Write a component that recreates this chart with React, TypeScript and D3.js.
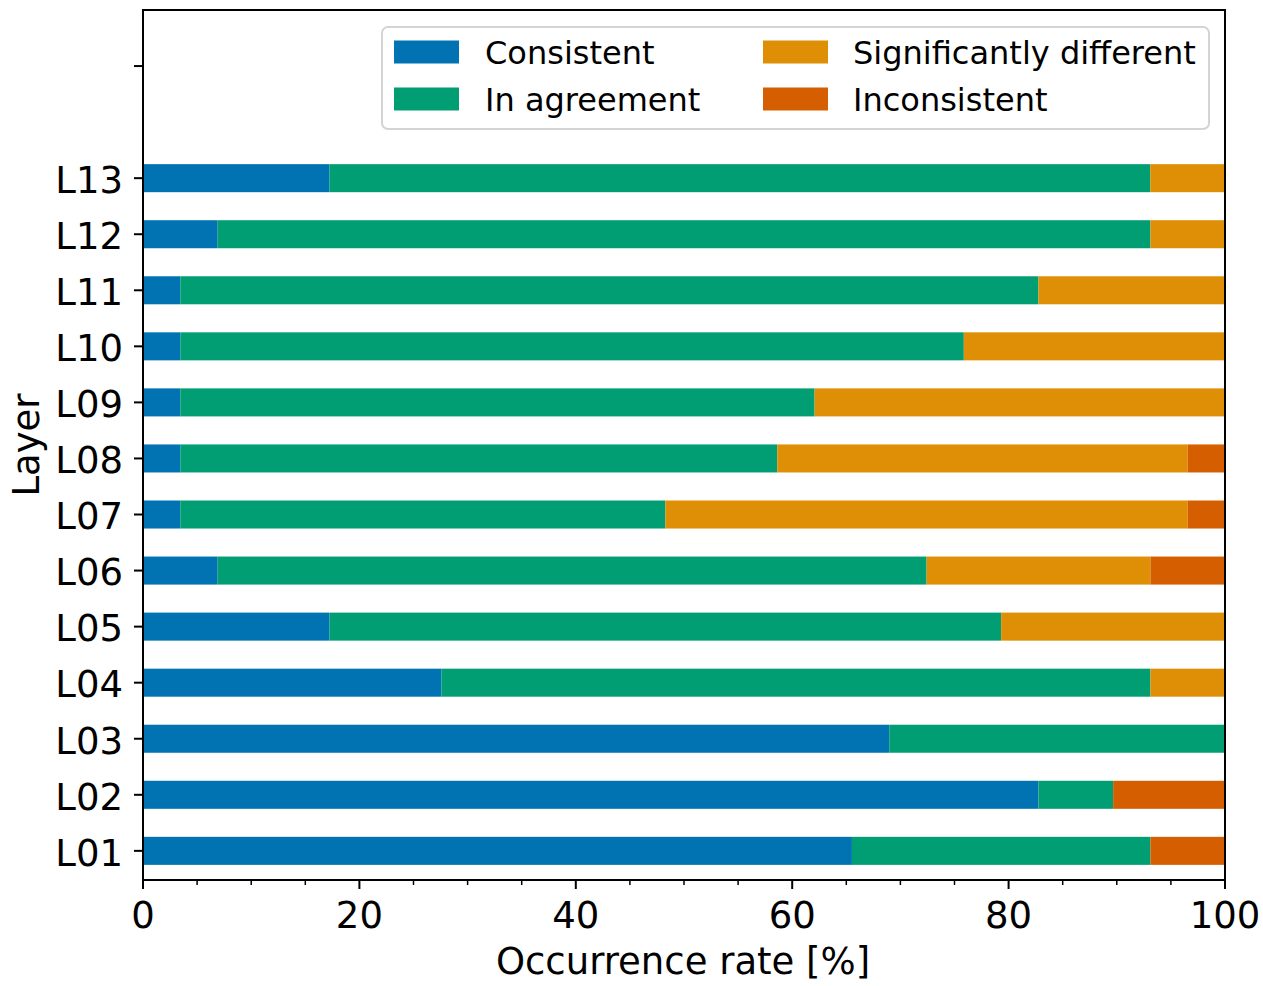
import React from "react";
import * as d3 from "d3";

const layers = ["L01","L02","L03","L04","L05","L06","L07","L08","L09","L10","L11","L12","L13"];
const seriesNames = ["Consistent", "In agreement", "Significantly different", "Inconsistent"];
const consistent = [65.52, 82.76, 68.97, 27.59, 17.24, 6.90, 3.45, 3.45, 3.45, 3.45, 3.45, 6.90, 17.24];
const inAgreement = [27.59, 6.90, 31.03, 65.52, 62.07, 65.52, 44.83, 55.17, 58.62, 72.41, 79.31, 86.21, 75.86];
const significantlyDifferent = [0, 0, 0, 6.90, 20.69, 20.69, 48.28, 37.93, 37.93, 24.14, 17.24, 6.90, 6.90];
const inconsistent = [6.90, 10.34, 0, 0, 0, 6.90, 3.45, 3.45, 0, 0, 0, 0, 0];
const xTicks = [0, 20, 40, 60, 80, 100];
const colors = ["#0173b2", "#029e73", "#de8f05", "#d55e00"];

const W = 1263, H = 986;
const ml = 143, mr = 1225, mt = 10, mb = 880;
const FONT = "DejaVu Sans, sans-serif";

export default function App() {
  const x = d3.scaleLinear().domain([0, 100]).range([ml, mr]);
  const y = d3.scaleLinear().domain([-0.52, 15]).range([mb, mt]);
  const rows = layers.map((l, i) => ({
    layer: l,
    [seriesNames[0]]: consistent[i],
    [seriesNames[1]]: inAgreement[i],
    [seriesNames[2]]: significantlyDifferent[i],
    [seriesNames[3]]: inconsistent[i],
  }));
  const stacked = d3.stack<any>().keys(seriesNames)(rows);
  const bh = Math.abs(y(0.25) - y(-0.25));
  const minorTicks = d3.range(0, 101, 5).filter((v) => v % 20 !== 0);
  const yTickPositions = [...layers.map((_, i) => i), 14];

  const legendItems = [
    { name: seriesNames[0], c: colors[0], hx: 394, tx: 485, cy: 52 },
    { name: seriesNames[1], c: colors[1], hx: 394, tx: 485, cy: 99 },
    { name: seriesNames[2], c: colors[2], hx: 763, tx: 853, cy: 52 },
    { name: seriesNames[3], c: colors[3], hx: 763, tx: 853, cy: 99 },
  ];

  return (
    <svg width={W} height={H} style={{ position: "absolute", left: 0, top: 0, background: "#fff" }} fontFamily={FONT}>
      <rect x={0} y={0} width={W} height={H} fill="#fff" />
      {stacked.map((s, si) => (
        <g key={s.key} fill={colors[si]}>
          {s.map((d, i) => (
            d[1] - d[0] > 0 ? (
              <rect key={i} x={x(d[0])} y={y(i) - bh / 2} width={x(d[1]) - x(d[0])} height={bh} />
            ) : null
          ))}
        </g>
      ))}
      <rect x={ml} y={mt} width={mr - ml} height={mb - mt} fill="none" stroke="#000" strokeWidth={2} />
      {xTicks.map((t) => (
        <g key={t}>
          <line x1={x(t)} x2={x(t)} y1={mb} y2={mb + 9} stroke="#000" strokeWidth={2} />
          <text x={x(t)} y={928} textAnchor="middle" fontSize={37} fill="#000">{t}</text>
        </g>
      ))}
      {minorTicks.map((t) => (
        <line key={t} x1={x(t)} x2={x(t)} y1={mb} y2={mb + 5} stroke="#000" strokeWidth={1.5} />
      ))}
      {yTickPositions.map((p) => (
        <g key={p}>
          <line x1={ml - 9} x2={ml} y1={y(p)} y2={y(p)} stroke="#000" strokeWidth={2} />
          {p < layers.length ? (
            <text x={123} y={y(p)} dy="0.4em" textAnchor="end" fontSize={37} fill="#000">{layers[p]}</text>
          ) : null}
        </g>
      ))}
      <text x={(ml + mr) / 2 - 1} y={974} textAnchor="middle" fontSize={37} fill="#000">Occurrence rate [%]</text>
      <text transform={`translate(39, ${(mt + mb) / 2}) rotate(-90)`} textAnchor="middle" fontSize={37} fill="#000">Layer</text>
      <rect x={382} y={27} width={827} height={102} rx={6} ry={6} fill="#fff" fillOpacity={0.8} stroke="#d4d4d4" strokeWidth={2} />
      {legendItems.map((it) => (
        <g key={it.name}>
          <rect x={it.hx} y={it.cy - 11.5} width={65} height={23} fill={it.c} />
          <text x={it.tx} y={it.cy} dy="0.36em" fontSize={32} fill="#000">{it.name}</text>
        </g>
      ))}
    </svg>
  );
}
